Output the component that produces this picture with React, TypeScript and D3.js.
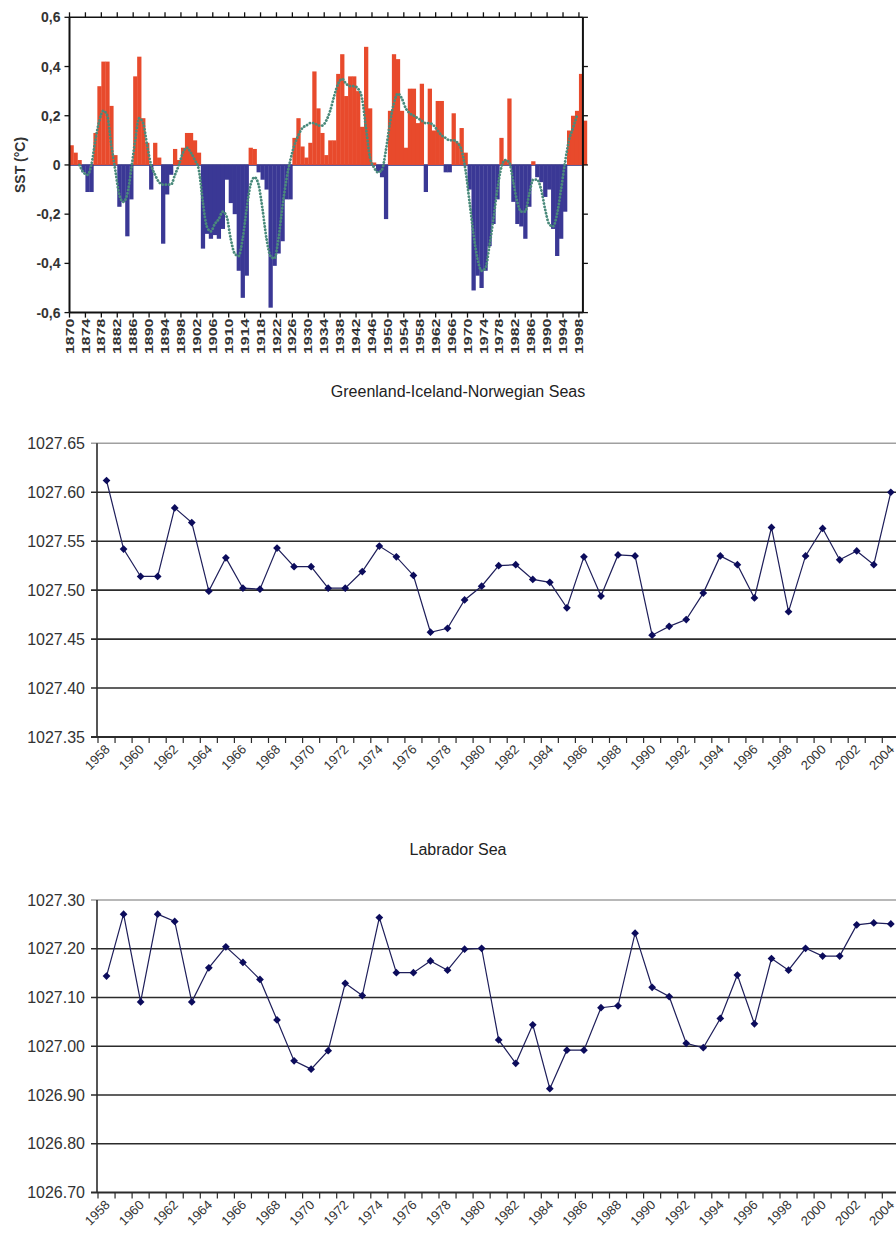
import * as d3 from 'd3'

// ---- SST anomaly bars (top panel) ----
const sstStartYear = 1870
const sstValues = [
  0.08, 0.05, 0.02, -0.03, -0.11, -0.11, 0.13, 0.32, 0.42, 0.42,
  0.24, 0.04, -0.17, -0.15, -0.29, -0.14, 0.36, 0.44, 0.19, 0.09,
  -0.10, 0.09, 0.03, -0.32, -0.12, -0.04, 0.065, 0.02, 0.07, 0.13,
  0.13, 0.10, 0.05, -0.34, -0.28, -0.30, -0.285, -0.30, -0.26, -0.06,
  -0.155, -0.20, -0.43, -0.54, -0.45, 0.07, 0.065, -0.03, -0.06, -0.10,
  -0.58, -0.41, -0.36, -0.31, -0.14, -0.14, 0.11, 0.19, 0.075, 0.03,
  0.09, 0.38, 0.23, 0.13, 0.04, 0.10, 0.10, 0.37, 0.45, 0.28,
  0.36, 0.36, 0.30, 0.155, 0.48, 0.23, 0.01, -0.03, -0.05, -0.22,
  0.22, 0.45, 0.43, 0.22, 0.07, 0.31, 0.31, 0.17, 0.33, -0.11,
  0.31, 0.14, 0.26, 0.26, -0.03, -0.03, 0.21, 0.09, 0.15, 0.05,
  -0.10, -0.51, -0.45, -0.50, -0.43, -0.33, -0.24, -0.14, 0.11, 0.02,
  0.27, -0.15, -0.24, -0.25, -0.30, -0.17, 0.015, -0.05, -0.07, -0.13,
  -0.10, -0.26, -0.37, -0.30, -0.19, 0.14, 0.20, 0.22, 0.37, 0.18,
]
// smoothed curve (dotted)
const sstSmoothStartYear = 1872
const sstSmooth = [
  0.0, -0.03, -0.04, 0.0, 0.10, 0.18, 0.22, 0.20,
  0.08, -0.02, -0.12, -0.15, -0.12, -0.02, 0.10, 0.19, 0.17, 0.08,
  0.0, -0.04, -0.07, -0.08, -0.08, -0.08, -0.04, 0.0, 0.05, 0.07,
  0.05, 0.02, -0.02, -0.15, -0.25, -0.27, -0.24, -0.22, -0.19, -0.21,
  -0.30, -0.36, -0.37, -0.30, -0.18, -0.08, -0.05, -0.08, -0.18, -0.30,
  -0.37, -0.38, -0.30, -0.17, -0.06, 0.02, 0.08, 0.12, 0.15, 0.16,
  0.17, 0.17, 0.16, 0.16, 0.18, 0.22, 0.28, 0.33, 0.35, 0.33,
  0.32, 0.32, 0.31, 0.27, 0.15, 0.03, -0.01, -0.03, -0.02, 0.06,
  0.17, 0.25, 0.29, 0.27, 0.23, 0.21, 0.20, 0.19, 0.18, 0.17,
  0.17, 0.16, 0.14, 0.12, 0.11, 0.10, 0.10, 0.09, 0.06, -0.02,
  -0.15, -0.28, -0.38, -0.43, -0.42, -0.33, -0.22, -0.10, -0.01, 0.02,
  0.01, -0.07, -0.15, -0.19, -0.19, -0.12, -0.06, -0.06, -0.10, -0.18,
  -0.24, -0.25, -0.20, -0.10, 0.01, 0.10, 0.15, 0.20,
]
const sstYTicks = [-0.6, -0.4, -0.2, 0, 0.2, 0.4, 0.6]
const sstLabelEvery = 4

// ---- density series (lower panels) ----
const densityYears = d3.range(1958, 2006)
const densityLabelEvery = 2
const ginTitle = 'Greenland-Iceland-Norwegian Seas'
const ginValues = [
  1027.612, 1027.542, 1027.514, 1027.514, 1027.584, 1027.569, 1027.499, 1027.533, 1027.502, 1027.501,
  1027.543, 1027.524, 1027.524, 1027.502, 1027.502, 1027.519, 1027.545, 1027.534, 1027.515, 1027.457,
  1027.461, 1027.490, 1027.504, 1027.525, 1027.526, 1027.511, 1027.508, 1027.482, 1027.534, 1027.494,
  1027.536, 1027.535, 1027.454, 1027.463, 1027.470, 1027.497, 1027.535, 1027.526, 1027.492, 1027.564,
  1027.478, 1027.535, 1027.563, 1027.531, 1027.540, 1027.526, 1027.600,
]
const ginYTicks = [1027.35, 1027.4, 1027.45, 1027.5, 1027.55, 1027.6, 1027.65]
const labTitle = 'Labrador Sea'
const labValues = [
  1027.144, 1027.271, 1027.091, 1027.271, 1027.256, 1027.091, 1027.161, 1027.204, 1027.172, 1027.137,
  1027.054, 1026.970, 1026.953, 1026.991, 1027.129, 1027.104, 1027.264, 1027.151, 1027.151, 1027.175,
  1027.156, 1027.199, 1027.201, 1027.013, 1026.965, 1027.044, 1026.913, 1026.992, 1026.992, 1027.079,
  1027.083, 1027.232, 1027.121, 1027.102, 1027.006, 1026.997, 1027.057, 1027.146, 1027.046, 1027.180,
  1027.156, 1027.201, 1027.185, 1027.185, 1027.249, 1027.253, 1027.251,
]
const labYTicks = [1026.7, 1026.8, 1026.9, 1027.0, 1027.1, 1027.2, 1027.3]

const W = 896
const H = 1247
const FONT = '"Liberation Sans", Arial, Helvetica, sans-serif'

function SstPanel() {
  const years = sstValues.map((_, i) => sstStartYear + i)
  const x = d3.scaleBand<number>().domain(years).range([69.5, 69.5 + years.length * 3.98])
  const y = d3.scaleLinear().domain([-0.6, 0.6]).range([312.6, 17.3])
  const bw = x.bandwidth()
  const left = x.range()[0]
  const labelYears = years.filter(yr => (yr - sstStartYear) % sstLabelEvery === 0)
  const lastLabel = labelYears[labelYears.length - 1]
  const right = (x(lastLabel) as number) + bw
  const smooth = d3.line<number>()
    .x((_, i) => (x(sstSmoothStartYear + i) as number) + bw / 2)
    .y(d => y(d))
    .curve(d3.curveMonotoneX)(sstSmooth) as string
  const fmt = (v: number) => (v === 0 ? '0' : d3.format('.1f')(v).replace('.', ',').replace('−', '-'))
  const top = y(0.6)
  const bottom = y(-0.6)

  return (
    <g fontFamily={FONT}>
      <line x1={left} x2={right} y1={y(0)} y2={y(0)} stroke="#2a2a78" strokeWidth={1.5} />
      {sstValues.map((v, i) => (
        <rect
          key={i}
          x={x(years[i]) as number}
          width={bw + 0.3}
          y={Math.min(y(v), y(0))}
          height={Math.abs(y(v) - y(0))}
          fill={v >= 0 ? '#e84a2c' : '#3a3895'}
        />
      ))}
      <path d={smooth} fill="none" stroke="#4a8a7b" strokeWidth={2.8} strokeDasharray="0.1 3.2" strokeLinecap="round" />
      {/* frame */}
      <line x1={left} x2={right} y1={top} y2={top} stroke="#111" strokeWidth={1.5} />
      <line x1={left} x2={right} y1={bottom} y2={bottom} stroke="#111" strokeWidth={2} />
      <line x1={left} x2={left} y1={top} y2={bottom} stroke="#111" strokeWidth={2} />
      <line x1={right} x2={right} y1={top} y2={bottom} stroke="#111" strokeWidth={2} />
      {labelYears.map(yr => (
        <g key={yr}>
          <line x1={x(yr) as number} x2={x(yr) as number} y1={top} y2={top - 5} stroke="#111" strokeWidth={1.3} />
          <line x1={x(yr) as number} x2={x(yr) as number} y1={bottom} y2={bottom + 5} stroke="#111" strokeWidth={1.3} />
          <text
            transform={`translate(${(x(yr) as number) + 0.5},${bottom + 6}) rotate(-90) scale(1.45,1)`}
            textAnchor="end"
            dominantBaseline="central"
            fontSize={11}
            fontWeight="bold"
            fill="#333"
          >
            {yr}
          </text>
        </g>
      ))}
      {sstYTicks.map(t => (
        <g key={t}>
          <line x1={left - 5} x2={left} y1={y(t)} y2={y(t)} stroke="#111" strokeWidth={1.3} />
          <line x1={right} x2={right + 5} y1={y(t)} y2={y(t)} stroke="#111" strokeWidth={1.3} />
          <text x={left - 9} y={y(t)} textAnchor="end" dominantBaseline="central" fontSize={14} fontWeight="bold" fill="#333">
            {fmt(t)}
          </text>
        </g>
      ))}
      <text
        transform={`translate(20,${y(0)}) rotate(-90)`}
        textAnchor="middle"
        dominantBaseline="central"
        fontSize={14}
        fontWeight="bold"
        fill="#333"
      >
        SST (°C)
      </text>
    </g>
  )
}

interface DensityProps {
  title: string
  titleY: number
  values: number[]
  yTicks: number[]
  top: number
  bottom: number
}

function DensityPanel({ title, titleY, values, yTicks, top, bottom }: DensityProps) {
  const x = d3.scaleBand<number>().domain(densityYears).range([98, 98 + densityYears.length * 17.05])
  const y = d3.scaleLinear().domain(d3.extent(yTicks) as [number, number]).range([bottom, top])
  const bw = x.bandwidth()
  const cx = (yr: number) => (x(yr) as number) + bw / 2
  const plotLeft = 97
  const plotRight = Math.min(W, x.range()[1])
  const pts = values.map((v, i) => [cx(densityYears[i]), y(v)] as [number, number])
  const path = d3.line()(pts) as string
  const diamond = d3.symbol(d3.symbolSquare, 30)() as string
  const boundaries = [...densityYears.map(yr => x(yr) as number), x.range()[1]]

  return (
    <g fontFamily={FONT}>
      <text x={458} y={titleY} textAnchor="middle" fontSize={16} fill="#222">
        {title}
      </text>
      {yTicks.map((t, i) => (
        <g key={t}>
          <line
            x1={plotLeft - 6}
            x2={plotRight}
            y1={y(t)}
            y2={y(t)}
            stroke={i === yTicks.length - 1 ? '#a0a0a0' : '#2b2b2b'}
            strokeWidth={i === 0 ? 2 : 1.6}
          />
          <text x={plotLeft - 12} y={y(t)} textAnchor="end" dominantBaseline="central" fontSize={16} fill="#333">
            {t.toFixed(2)}
          </text>
        </g>
      ))}
      <line x1={plotLeft} x2={plotLeft} y1={top} y2={bottom} stroke="#2b2b2b" strokeWidth={1.6} />
      {boundaries.map((bx, i) => (
        <line key={i} x1={bx} x2={bx} y1={bottom} y2={bottom + 6} stroke="#2b2b2b" strokeWidth={1.2} />
      ))}
      {densityYears
        .filter(yr => (yr - densityYears[0]) % densityLabelEvery === 0)
        .map(yr => (
          <text
            key={yr}
            transform={`translate(${cx(yr) + 1},${bottom + 10}) rotate(-45)`}
            textAnchor="end"
            dominantBaseline="central"
            fontSize={13}
            fill="#333"
          >
            {yr}
          </text>
        ))}
      <path d={path} fill="none" stroke="#1e1e5a" strokeWidth={1.2} />
      {pts.map(([px, py], i) => (
        <path key={i} d={diamond} transform={`translate(${px},${py}) rotate(45)`} fill="#0c0c5c" />
      ))}
    </g>
  )
}

export default function App() {
  return (
    <svg
      width={W}
      height={H}
      viewBox={`0 0 ${W} ${H}`}
      style={{ position: 'absolute', left: 0, top: 0, background: '#fff' }}
    >
      <rect width={W} height={H} fill="#fff" />
      <SstPanel />
      <DensityPanel title={ginTitle} titleY={397} values={ginValues} yTicks={ginYTicks} top={443.3} bottom={737} />
      <DensityPanel title={labTitle} titleY={855} values={labValues} yTicks={labYTicks} top={900} bottom={1192.5} />
    </svg>
  )
}
